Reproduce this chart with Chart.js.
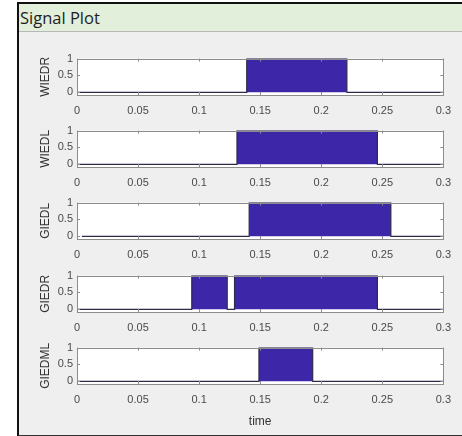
<!DOCTYPE html>
<html>
<head>
<meta charset="utf-8">
<script src="https://cdn.jsdelivr.net/npm/chart.js@4"></script>
<style>
  html, body { margin: 0; padding: 0; background: #fff; }
  #frame {
    position: absolute; left: 17px; top: 2px; width: 450px; height: 431px;
    border-left: 2px solid #111; border-top: 2px solid #111; border-bottom: 2px solid #333;
    background: #efefef; overflow: hidden;
  }
  #titlebar {
    position: absolute; left: 0; top: 0; right: 0; height: 27px;
    background: #e2efda; border-bottom: 1px solid #b8b8b8;
    font-family: "Open Sans", "Noto Sans", sans-serif; font-size: 16.5px; color: #1e1e1e;
    line-height: 27px; padding-left: 1px;
  }
  canvas { position: absolute; }
</style>
</head>
<body>
<div id="frame"><div id="titlebar">Signal Plot</div></div>
<script>
//Tick labels shared by every panel.
const timeTicks = [0, 0.05, 0.1, 0.15, 0.2, 0.25, 0.3];
const levelTicks = [0, 0.5, 1];

//Signal names, top to bottom.
const signalNames = ["WIEDR", "WIEDL", "GIEDL", "GIEDR", "GIEDML"];

//Step signals: time and level of each corner.
const wiedrTime = [0, 0.139, 0.139, 0.221, 0.221, 0.3];
const wiedrLevel = [0, 0, 1, 1, 0, 0];

const wiedlTime = [0, 0.131, 0.131, 0.246, 0.246, 0.3];
const wiedlLevel = [0, 0, 1, 1, 0, 0];

const giedlTime = [0.004, 0.141, 0.141, 0.257, 0.257, 0.3];
const giedlLevel = [0, 0, 1, 1, 0, 0];

const giedrTime = [0, 0.094, 0.094, 0.123, 0.123, 0.129, 0.129, 0.246, 0.246, 0.3];
const giedrLevel = [0, 0, 1, 1, 0, 0, 1, 1, 0, 0];

const giedmlTime = [0, 0.149, 0.149, 0.193, 0.193, 0.3];
const giedmlLevel = [0, 0, 1, 1, 0, 0];

const signalTimes = [wiedrTime, wiedlTime, giedlTime, giedrTime, giedmlTime];
const signalLevels = [wiedrLevel, wiedlLevel, giedlLevel, giedrLevel, giedmlLevel];

//Where each axes box sits on the page.
const boxTops = [56, 128, 200, 273, 345];
const boxHeight = 39;

//White axes background, grey box and inward tick marks like MATLAB.
const boxPlugin = {
  id: "box",
  beforeDatasetsDraw(chart) {
    const {ctx, chartArea: a} = chart;
    ctx.save();
    ctx.fillStyle = "#fff";
    ctx.fillRect(a.left, a.top, a.right - a.left, a.bottom - a.top);
    ctx.restore();
  },
  afterDraw(chart) {
    const {ctx, chartArea: a, scales} = chart;
    ctx.save();
    ctx.strokeStyle = "#8c8c8c";
    ctx.lineWidth = 1;
    ctx.beginPath();
    timeTicks.forEach(t => {
      let x = Math.round(scales.x.getPixelForValue(t)) + 0.5;
      ctx.moveTo(x, a.bottom); ctx.lineTo(x, a.bottom - 3);
      ctx.moveTo(x, a.top); ctx.lineTo(x, a.top + 3);
    });
    levelTicks.forEach(v => {
      let y = Math.round(scales.y.getPixelForValue(v)) + 0.5;
      ctx.moveTo(a.left, y); ctx.lineTo(a.left + 3, y);
      ctx.moveTo(a.right, y); ctx.lineTo(a.right - 3, y);
    });
    ctx.stroke();
    ctx.strokeRect(Math.round(a.left) + 0.5, Math.round(a.top) + 0.5,
      Math.round(a.right - a.left), Math.round(a.bottom - a.top));
    ctx.restore();
  }
};

const tickFont = {family: "'Liberation Sans', Arial, sans-serif", size: 11};
const titleFont = {family: "'Liberation Sans', Arial, sans-serif", size: 12};

signalNames.forEach((name, i) => {
  let last = i === signalNames.length - 1;
  let axisHeight = last ? 47 : 26;

  let canvas = document.createElement("canvas");
  canvas.style.left = "20px";
  canvas.style.top = (boxTops[i] - 8) + "px";
  canvas.style.width = "440px";
  canvas.style.height = (8 + boxHeight + axisHeight) + "px";
  canvas.width = 440;
  canvas.height = 8 + boxHeight + axisHeight;
  document.body.appendChild(canvas);

  let points = signalTimes[i].map((t, k) => ({x: t, y: signalLevels[i][k]}));

  new Chart(canvas.getContext("2d"), {
    type: "line",
    data: {
      datasets: [{
        label: name,
        data: points,
        fill: "origin",
        backgroundColor: "#3e26a8",
        borderColor: "#2e2a4a",
        borderWidth: 1.2,
        pointRadius: 0,
        tension: 0
      }]
    },
    options: {
      responsive: false,
      animation: false,
      devicePixelRatio: 1,
      layout: {padding: {top: 8, right: 15, left: 0, bottom: 0}},
      plugins: {legend: {display: false}, tooltip: {enabled: false}},
      scales: {
        x: {
          type: "linear",
          min: 0,
          max: 0.3,
          afterBuildTicks: s => { s.ticks = timeTicks.map(v => ({value: v})); },
          afterFit: s => { s.height = axisHeight; },
          grid: {display: false, drawTicks: false},
          border: {display: false},
          ticks: {
            font: tickFont, color: "#4a4a4a", padding: 9, maxRotation: 0,
            callback: v => String(v)
          },
          title: {
            display: last, text: "time", font: titleFont, color: "#333",
            padding: {top: 0, bottom: 2}
          }
        },
        y: {
          min: -0.08,
          max: 1,
          afterBuildTicks: s => { s.ticks = levelTicks.map(v => ({value: v})); },
          afterFit: s => { s.width = 57; },
          grid: {display: false, drawTicks: false},
          border: {display: false},
          ticks: {font: tickFont, color: "#4a4a4a", padding: 4, callback: v => String(v)},
          title: {
            display: true, text: name, font: titleFont, color: "#333",
            padding: {top: 18, bottom: 0}
          }
        }
      }
    },
    plugins: [boxPlugin]
  });
});
</script>
</body>
</html>
